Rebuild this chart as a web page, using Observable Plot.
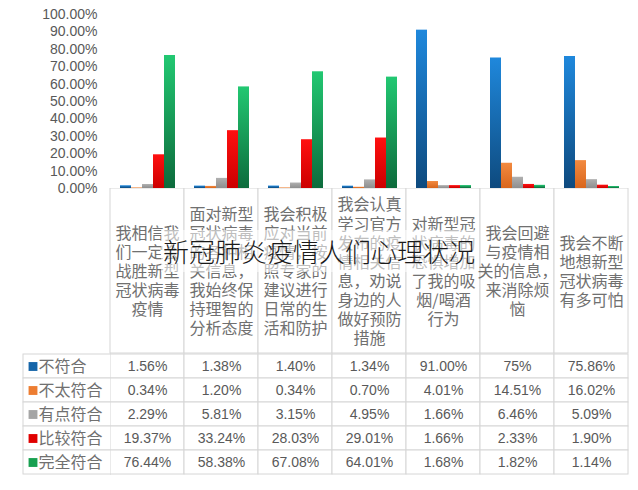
<!DOCTYPE html>
<html><head><meta charset="utf-8">
<script src="https://cdn.jsdelivr.net/npm/d3@7"></script>
<script src="https://cdn.jsdelivr.net/npm/@observablehq/plot@0.6"></script>
<style>
html,body{margin:0;padding:0;background:#fff;overflow:hidden}
#wrap{position:relative;width:638px;height:490px;background:#fff}
#wrap > *{position:absolute}
#title{left:0;width:638px;top:230px;text-align:center;pointer-events:none;white-space:nowrap}
#title span{display:inline-block;font:300 26px "Noto Sans CJK SC";color:#1a1a1a;line-height:34px;padding:4px 2px;
  background:rgba(255,255,255,0.55)}
</style></head><body><div id="wrap"></div>
<script>
// ---- data ----
const categories = [
  "我相信我\n们一定会\n战胜新型\n冠状病毒\n疫情",
  "面对新型\n冠状病毒\n的各种相\n关信息，\n我始终保\n持理智的\n分析态度",
  "我会积极\n应对当前\n疫情，按\n照专家的\n建议进行\n日常的生\n活和防护",
  "我会认真\n学习官方\n发布的疫\n情相关信\n息，劝说\n身边的人\n做好预防\n措施",
  "对新型冠\n状病毒的\n恐惧增加\n了我的吸\n烟/喝酒\n行为",
  "我会回避\n与疫情相\n关的信息，\n来消除烦\n恼",
  "我会不断\n地想新型\n冠状病毒\n有多可怕"
];
const seriesNames = ["不符合", "不太符合", "有点符合", "比较符合", "完全符合"];
const buFuhe     = ["1.56", "1.38", "1.40", "1.34", "91.00", "75", "75.86"];
const butaiFuhe  = ["0.34", "1.20", "0.34", "0.70", "4.01", "14.51", "16.02"];
const youdianFuhe= ["2.29", "5.81", "3.15", "4.95", "1.66", "6.46", "5.09"];
const bijiaoFuhe = ["19.37", "33.24", "28.03", "29.01", "1.66", "2.33", "1.90"];
const wanquanFuhe= ["76.44", "58.38", "67.08", "64.01", "1.68", "1.82", "1.14"];
const yTicks = [0, 10, 20, 30, 40, 50, 60, 70, 80, 90, 100];
const titleText = "新冠肺炎疫情人们心理状况";

const seriesValues = [buFuhe, butaiFuhe, youdianFuhe, bijiaoFuhe, wanquanFuhe];
const rows = [];
seriesNames.forEach((s, si) => categories.forEach((c, ci) => {
  rows.push({series: s, category: c, text: seriesValues[si][ci] + "%", value: parseFloat(seriesValues[si][ci])});
}));

// ---- styles ----
const grads = [
  ["g0", "#1f88dc", "#0e4a7e"],
  ["g1", "#f28a40", "#d9661c"],
  ["g2", "#b0b0b0", "#8e8e8e"],
  ["g3", "#ff1010", "#cc0000"],
  ["g4", "#22c872", "#0d6b3c"]
];
const legendColors = ["#1565a8", "#ed7d31", "#a5a5a5", "#e00000", "#18a050"];
const border = "#d6d6d6";
const textGray = "#595959";
const labelGray = "#707070";
const latin = "'Liberation Sans', Arial, sans-serif";
const cjk = "'Noto Sans CJK SC', sans-serif";

const wrap = document.getElementById("wrap");

// ---- category label row ----
const labelRow = Plot.plot({
  width: 638, height: 166,
  marginLeft: 110, marginRight: 10, marginTop: 0, marginBottom: 1,
  style: {fontSize: "16px", fontFamily: cjk, color: labelGray, background: "transparent"},
  x: {domain: categories, padding: 0, axis: null},
  marks: [
    Plot.cell(categories, {x: d => d, fill: "white", stroke: border}),
    Plot.text(categories, {x: d => d, text: d => d, lineHeight: 1.19, fill: labelGray})
  ]
});
labelRow.style.left = "0px"; labelRow.style.top = "188px";
wrap.appendChild(labelRow);

// ---- bar chart ----
const chart = Plot.plot({
  width: 638, height: 200,
  marginLeft: 110, marginRight: 10, marginTop: 14, marginBottom: 12,
  style: {fontSize: "14px", fontFamily: latin, color: textGray, background: "transparent"},
  fx: {domain: categories, padding: 0, axis: null},
  x: {domain: seriesNames, paddingInner: 0, paddingOuter: 0.7, axis: null},
  y: {domain: [0, 100], ticks: yTicks, tickFormat: d => d.toFixed(2) + "%", tickSize: 0, tickPadding: 13, label: null},
  color: {domain: seriesNames, range: grads.map(g => `url(#${g[0]})`)},
  marks: [
    Plot.barY(rows, {fx: "category", x: "series", y: "value", fill: "series"})
  ]
});
const ns = "http://www.w3.org/2000/svg";
const defs = document.createElementNS(ns, "defs");
for (const [id, c1, c2] of grads) {
  const lg = document.createElementNS(ns, "linearGradient");
  lg.setAttribute("id", id);
  lg.setAttribute("x1", "0"); lg.setAttribute("y1", "0");
  lg.setAttribute("x2", "0"); lg.setAttribute("y2", "1");
  const s1 = document.createElementNS(ns, "stop");
  s1.setAttribute("offset", "0"); s1.setAttribute("stop-color", c1);
  const s2 = document.createElementNS(ns, "stop");
  s2.setAttribute("offset", "1"); s2.setAttribute("stop-color", c2);
  lg.appendChild(s1); lg.appendChild(s2); defs.appendChild(lg);
}
chart.insertBefore(defs, chart.firstChild);
chart.style.left = "0px"; chart.style.top = "0px";
wrap.appendChild(chart);

// ---- legend column ----
const legend = Plot.plot({
  width: 111, height: 123,
  marginLeft: 23, marginRight: 0, marginTop: 0, marginBottom: 1,
  style: {fontSize: "16px", fontFamily: cjk, background: "transparent"},
  x: {domain: ["key"], padding: 0, axis: null},
  y: {domain: seriesNames, padding: 0, axis: null},
  marks: [
    Plot.cell(seriesNames, {x: () => "key", y: d => d, fill: "white", stroke: border}),
    Plot.dot(seriesNames, {y: d => d, frameAnchor: "left", dx: 9.5, symbol: "square", r: 5, fill: (d, i) => legendColors[i]}),
    Plot.text(seriesNames, {y: d => d, text: d => d, frameAnchor: "left", textAnchor: "start", dx: 15, fill: labelGray})
  ]
});
legend.style.left = "0px"; legend.style.top = "353px";
wrap.appendChild(legend);

// ---- data table ----
const table = Plot.plot({
  width: 528, height: 123,
  marginLeft: 0, marginRight: 10, marginTop: 0, marginBottom: 1,
  style: {fontSize: "14px", fontFamily: latin, background: "transparent"},
  x: {domain: categories, padding: 0, axis: null},
  y: {domain: seriesNames, padding: 0, axis: null},
  marks: [
    Plot.cell(rows, {x: "category", y: "series", fill: "white", stroke: border}),
    Plot.text(rows, {x: "category", y: "series", text: "text", fill: textGray})
  ]
});
table.style.left = "110px"; table.style.top = "353px";
wrap.appendChild(table);

// ---- title overlay ----
const title = document.createElement("div");
title.id = "title";
const titleSpan = document.createElement("span");
titleSpan.textContent = titleText;
title.appendChild(titleSpan);
wrap.appendChild(title);
</script>
</body></html>
